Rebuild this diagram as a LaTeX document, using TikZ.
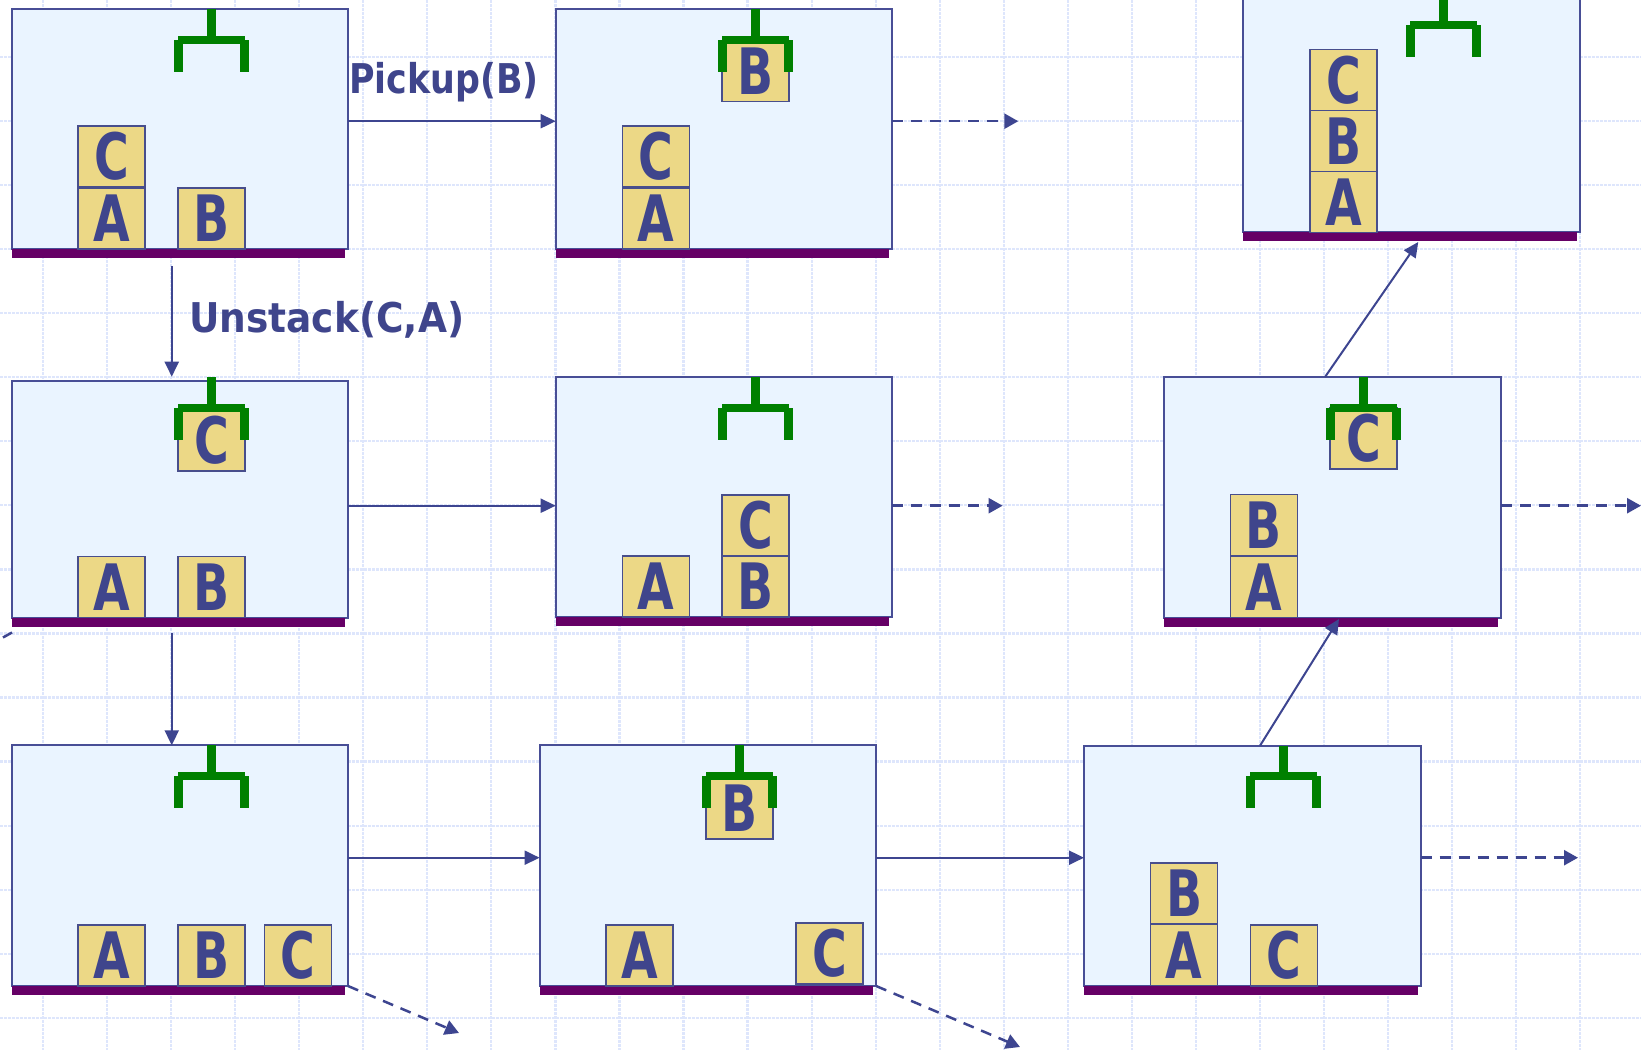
\documentclass[tikz,border=0pt]{standalone}
\usepackage{fontspec}
\usetikzlibrary{arrows.meta}
\setmainfont{DejaVu Sans}
\newfontfamily\blockfont[FakeStretch=0.74]{DejaVu Sans}
\newfontfamily\labelfont[FakeStretch=0.85]{DejaVu Sans}
\newfontfamily\labelfontb[FakeStretch=0.915]{DejaVu Sans}
\definecolor{boxfill}{RGB}{234,244,255}
\definecolor{boxline}{RGB}{72,78,150}
\definecolor{floorc}{RGB}{102,0,102}
\definecolor{gripc}{RGB}{0,128,0}
\definecolor{blockfill}{RGB}{236,216,134}
\definecolor{blockline}{RGB}{72,78,140}
\definecolor{inkc}{RGB}{63,69,140}
\definecolor{arrowc}{RGB}{61,69,144}
\definecolor{gridc}{RGB}{222,230,252}
\newcommand\gripperat[3]{%
  \fill[gripc] ({#1-4.5},{#3}) rectangle ({#1+4.5},{#2+1});
  \fill[gripc] ({#1-33.5},{#2}) rectangle ({#1+33.5},{#2+8});
  \fill[gripc] ({#1-37.5},{#2+4}) rectangle ({#1-28.5},{#2+36});
  \fill[gripc] ({#1+28.5},{#2+4}) rectangle ({#1+37.5},{#2+36});
}
\tikzset{
  box/.style={draw=boxline, fill=boxfill, line width=2pt, rectangle, inner sep=0pt, outer sep=0pt, anchor=north west, minimum width=336.5pt},
  floorbar/.style={fill=floorc},
  blk/.style={draw=blockline, fill=blockfill, line width=1.5pt, rectangle, minimum width=67pt, minimum height=61pt, inner sep=0pt, outer sep=0pt, anchor=north west, text=inkc, font=\blockfont\bfseries\fontsize{64}{64}\selectfont},
  arr/.style={draw=arrowc, line width=2pt, -{Triangle[length=15pt,width=14pt]}},
  darr/.style={draw=arrowc, line width=2.5pt, dash pattern=on 11pt off 8pt, -{Triangle[length=14pt,width=15pt]}},
  lbl/.style={text=inkc, inner sep=0pt, anchor=base west, font=\bfseries\fontsize{41}{41}\selectfont},
  gridl/.style={draw=gridc, line width=2.2pt, dash pattern=on 2.5pt off 1.5pt}
}
\begin{document}
\begin{tikzpicture}[x=1pt,y=-1pt]
\useasboundingbox (0,0) rectangle (1641,1050);
\clip (0,0) rectangle (1641,1050);
\fill[white] (0,0) rectangle (1641,1050);
% grid
\foreach \i in {0,...,24} \draw[gridl] ({43+64.05*\i},0) -- ({43+64.05*\i},1050);
\foreach \j in {0,...,15} \draw[gridl] (0,{57+64.05*\j}) -- (1641,{57+64.05*\j});
% boxes
\node[box, minimum height=240pt] (b1) at (11.5,9.3) {};
\node[box, minimum height=239.6pt] (b2) at (555.7,9.4) {};
\node[box, minimum height=240pt] (b3) at (1243,-8) {};
\node[box, minimum height=237pt] (b4) at (11.5,380.7) {};
\node[box, minimum height=240pt] (b5) at (555.7,377.3) {};
\node[box, minimum height=240.7pt] (b6) at (1164,377) {};
\node[box, minimum height=240.7pt] (b7) at (11.5,745.3) {};
\node[box, minimum height=240.7pt] (b8) at (539.6,745.3) {};
\node[box, minimum height=240.3pt] (b9) at (1084,745.7) {};
% floors
\foreach \b in {b1,b2,b3,b4,b5,b6,b7,b8,b9}
  \fill[floorbar] (\b.south west) rectangle ++(333.5,9);
% blocks
\node[blk] (c1) at (78,126) {C};
\node[blk] (a1) at (78,188) {A};
\node[blk] (bb1) at (178,188) {B};
\node[blk] (bb2) at (722,40.5) {B};
\node[blk] (c2) at (622.5,126) {C};
\node[blk] (a2) at (622.5,188) {A};
\node[blk] (c3) at (1310,49.5) {C};
\node[blk] (bb3) at (1310,110.5) {B};
\node[blk] (a3) at (1310,171.5) {A};
\node[blk] (c4) at (178,410) {C};
\node[blk] (a4) at (78,556.7) {A};
\node[blk] (bb4) at (178,556.7) {B};
\node[blk] (c5) at (722,495) {C};
\node[blk] (bb5) at (722,556) {B};
\node[blk] (a5) at (622.5,556) {A};
\node[blk] (c6) at (1330,408) {C};
\node[blk] (bb6) at (1230.5,494.5) {B};
\node[blk] (a6) at (1230.5,556.5) {A};
\node[blk] (a7) at (78,925) {A};
\node[blk] (bb7) at (178,925) {B};
\node[blk] (c7) at (264.5,925) {C};
\node[blk] (bb8) at (706,778) {B};
\node[blk] (a8) at (606,925) {A};
\node[blk] (c8) at (796,923) {C};
\node[blk] (bb9) at (1150.7,863) {B};
\node[blk] (a9) at (1150.7,924.5) {A};
\node[blk] (c9) at (1250.5,925) {C};
% grippers
\gripperat{211.7}{36}{9.3}
\gripperat{755.7}{36}{9.4}
\gripperat{1443.5}{21}{-8}
\gripperat{211.5}{404.3}{376.7}
\gripperat{755.5}{404.3}{377.3}
\gripperat{1363.7}{404}{377}
\gripperat{211.5}{772.3}{745.3}
\gripperat{739.6}{772.3}{745.3}
\gripperat{1283.7}{772.3}{745.7}
% connectors
\coordinate (r1) at (0,121.2);
\coordinate (r2) at (0,505.7);
\coordinate (r3) at (0,857.7);
\coordinate (e2) at (1018.3,121.2);
\coordinate (e5) at (1002.6,505.7);
\coordinate (e6) at (1641,505.7);
\coordinate (e9) at (1578,857.7);
\coordinate (e7) at (459,1033);
\coordinate (e8) at (1020,1047);
\coordinate (s1) at (12,632.5);
\coordinate (s2) at (3,637.5);
\draw[arr] (b1.east |- r1) -- (b2.west |- r1);
\draw[darr] (b2.east |- r1) -- (e2);
\draw[arr] ([xshift=-8pt,yshift=-17pt]b1.south) -- ([xshift=-8pt,yshift=4pt]b4.north);
\draw[arr] (b4.east |- r2) -- (b5.west |- r2);
\draw[darr] (b5.east |- r2) -- (e5);
\draw[darr] (b6.east |- r2) -- (e6);
\draw[arr] ([xshift=-8pt,yshift=-15.3pt]b4.south) -- ([xshift=-8pt]b7.north);
\draw[arr] (b7.east |- r3) -- (b8.west |- r3);
\draw[arr] (b8.east |- r3) -- (b9.west |- r3);
\draw[darr] (b9.east |- r3) -- (e9);
\draw[arr] ([xshift=7.75pt]b9.north) -- ([xshift=6.75pt,yshift=-1.3pt]b6.south);
\draw[arr] ([xshift=-7.25pt]b6.north) -- ([xshift=7pt,yshift=-10pt]b3.south);
\draw[darr] (b7.south east) -- (e7);
\draw[darr] (b8.south east) -- (e8);
\draw[draw=arrowc, line width=2.5pt] (s1) -- (s2);
% labels
\node[lbl] (lp) at (349,93) {\labelfont\bfseries Pickup(B)};
\node[lbl] (lu) at (189,332) {\labelfontb\bfseries Unstack(C,A)};
\end{tikzpicture}
\end{document}
